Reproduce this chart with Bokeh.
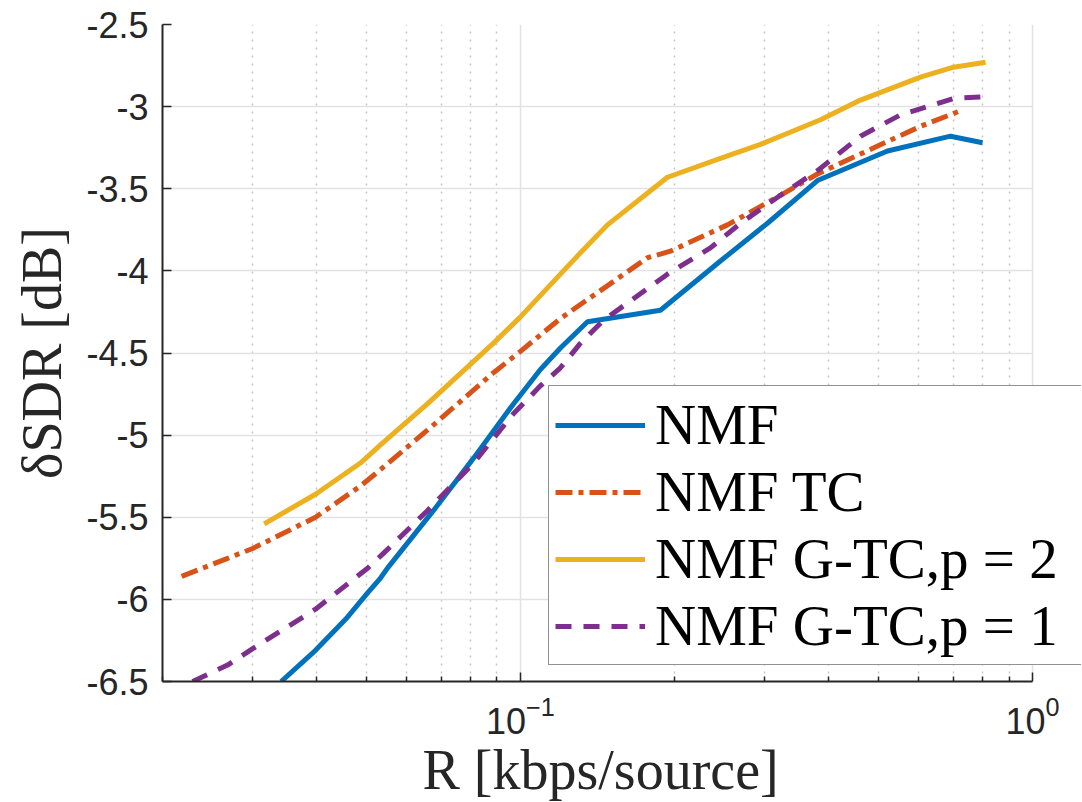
import math
from bokeh.plotting import figure
from bokeh.models import (FixedTicker, Legend, LegendItem, Range1d, LogTickFormatter, Title)
from bokeh.embed import file_html
from bokeh.resources import INLINE

# ---------------- data ----------------
rate_nmf = [0.0341, 0.0398, 0.0459, 0.0503, 0.0533, 0.0550, 0.0676, 0.0810, 0.0969,
            0.1094, 0.1197, 0.1352, 0.1877, 0.2458, 0.3037, 0.3802, 0.5210, 0.6918, 0.7989]
sdr_nmf = [-6.50, -6.31, -6.11, -5.96, -5.87, -5.81, -5.46, -5.14, -4.81,
           -4.60, -4.47, -4.31, -4.24, -3.94, -3.71, -3.45, -3.27, -3.18, -3.22]

rate_tc = [0.0218, 0.0268, 0.0300, 0.0398, 0.0487, 0.0533, 0.0658, 0.0886, 0.1000,
           0.1197, 0.1433, 0.1770, 0.1963, 0.2537, 0.3219, 0.3802, 0.4983, 0.6043, 0.7302]
sdr_tc = [-5.86, -5.75, -5.69, -5.50, -5.31, -5.21, -4.97, -4.62, -4.49,
          -4.29, -4.12, -3.92, -3.88, -3.72, -3.54, -3.41, -3.24, -3.12, -3.02]

rate_gtc2 = [0.0316, 0.0398, 0.0487, 0.0533, 0.0658, 0.0886, 0.1000, 0.1197, 0.1310,
             0.1479, 0.1937, 0.2537, 0.2943, 0.3219, 0.3855, 0.4614, 0.6043, 0.7012, 0.8098]
sdr_gtc2 = [-5.54, -5.36, -5.17, -5.06, -4.81, -4.44, -4.28, -4.02, -3.89,
            -3.72, -3.43, -3.30, -3.23, -3.18, -3.08, -2.96, -2.82, -2.76, -2.73]

rate_gtc1 = [0.0229, 0.0268, 0.0300, 0.0398, 0.0503, 0.0540, 0.0658, 0.0810, 0.0969,
             0.1094, 0.1197, 0.1310, 0.1453, 0.1662, 0.1937, 0.2350, 0.2690, 0.3219,
             0.3802, 0.4614, 0.5524, 0.6236, 0.7012, 0.7989]
sdr_gtc1 = [-6.50, -6.40, -6.30, -6.06, -5.81, -5.72, -5.46, -5.17, -4.87,
            -4.70, -4.59, -4.44, -4.30, -4.17, -4.02, -3.86, -3.71, -3.54,
            -3.39, -3.18, -3.05, -3.00, -2.95, -2.94]

series_labels = ["NMF", "NMF TC", "NMF G-TC,p = 2", "NMF G-TC,p = 1"]

y_ticks = [-6.5, -6.0, -5.5, -5.0, -4.5, -4.0, -3.5, -3.0, -2.5]
y_tick_labels = ["-6.5", "-6", "-5.5", "-5", "-4.5", "-4", "-3.5", "-3", "-2.5"]
x_major_ticks = [0.1, 1.0]
x_minor_ticks = [0.02, 0.03, 0.04, 0.05, 0.06, 0.07, 0.08, 0.09,
                 0.2, 0.3, 0.4, 0.5, 0.6, 0.7, 0.8, 0.9]

x_lo, x_hi = 0.02, 1.0      # axis extent
y_lo, y_hi = -6.5, -2.5

# ---------------- styles ----------------
C_BLUE = "#0072BD"
C_ORANGE = "#D95319"
C_YELLOW = "#EDB120"
C_PURPLE = "#7E2F8E"
AX = "#262626"
GRID = "#e2e2e2"
LW = 5

# the frame reaches a little past the axis end so the legend can overhang it
W, H = 1082, 802
ML, MR, MT, MB = 162, 1, 24, 121
frame_w = W - ML - MR
axis_w = 870.0
dec = math.log10(x_hi) - math.log10(x_lo)
x_view_hi = 10 ** (math.log10(x_lo) + dec * frame_w / axis_w)

p = figure(width=W, height=H, x_axis_type="log",
           x_range=Range1d(x_lo, x_view_hi), y_range=Range1d(y_lo, y_hi),
           output_backend="svg", toolbar_location=None,
           min_border_left=ML, min_border_right=MR,
           min_border_top=MT, min_border_bottom=MB)
p.outline_line_color = None
p.background_fill_color = "white"

# grids
p.xaxis.ticker = FixedTicker(ticks=x_major_ticks, minor_ticks=x_minor_ticks)
p.xgrid.ticker = FixedTicker(ticks=x_major_ticks, minor_ticks=x_minor_ticks)
p.yaxis.ticker = FixedTicker(ticks=y_ticks)
p.ygrid.ticker = FixedTicker(ticks=y_ticks)
for g in (p.xgrid, p.ygrid):
    g.grid_line_color = GRID
    g.grid_line_width = 1.5
p.xgrid.minor_grid_line_color = "#c4c4c4"
p.xgrid.minor_grid_line_dash = "2 6"
p.xgrid.minor_grid_line_width = 1.5
try:
    p.ygrid.cross_bounds = (x_lo, x_hi)
except Exception:
    p.ygrid.visible = False
    p.segment(x0=[x_lo] * len(y_ticks), y0=y_ticks, x1=[x_hi] * len(y_ticks),
              y1=y_ticks, line_color=GRID, line_width=1.5, level="underlay")

r1 = p.line(rate_nmf, sdr_nmf, line_color=C_BLUE, line_width=LW)
r2 = p.line(rate_tc, sdr_tc, line_color=C_ORANGE, line_width=LW, line_dash="17 6 5 6")
r3 = p.line(rate_gtc2, sdr_gtc2, line_color=C_YELLOW, line_width=LW)
r4 = p.line(rate_gtc1, sdr_gtc1, line_color=C_PURPLE, line_width=LW, line_dash="16 12")

# y axis
p.yaxis.major_label_overrides = dict(zip(y_ticks, y_tick_labels))
p.yaxis.major_label_text_font = "Liberation Sans"
p.yaxis.major_label_text_font_size = "36px"
p.yaxis.major_label_text_color = AX
p.yaxis.major_label_standoff = 14
p.yaxis.axis_label = "δSDR [dB]"
p.yaxis.axis_label_text_font = "Liberation Serif"
p.yaxis.axis_label_text_font_style = "normal"
p.yaxis.axis_label_text_font_size = "56px"
p.yaxis.axis_label_text_color = AX
p.yaxis.axis_label_standoff = 10
p.yaxis.minor_tick_line_color = None

# x axis
p.xaxis.bounds = (x_lo, x_hi)
p.xaxis.formatter = LogTickFormatter()
p.xaxis.major_label_text_font = "Liberation Sans"
p.xaxis.major_label_text_font_size = "36px"
p.xaxis.major_label_text_color = AX
p.xaxis.major_label_standoff = 14

for ax in (p.xaxis, p.yaxis):
    ax.axis_line_color = AX
    ax.axis_line_width = 2
    ax.major_tick_line_color = AX
    ax.major_tick_line_width = 1.5
    ax.major_tick_in = 9
    ax.major_tick_out = 0
p.xaxis.minor_tick_line_color = AX
p.xaxis.minor_tick_line_width = 1.5
p.xaxis.minor_tick_in = 5
p.xaxis.minor_tick_out = 0

# x axis title, placed under the axis (not the wider frame)
p.add_layout(Title(text="R [kbps/source]", align="left", offset=260,
                   text_font="Liberation Serif", text_font_size="56px",
                   text_font_style="normal", text_color=AX, standoff=0),
             "below")

# legend
items = [LegendItem(label=lab, renderers=[r]) for lab, r in zip(series_labels, [r1, r2, r3, r4])]
legend = Legend(items=items, location=(386, 16), margin=0, padding=6,
                spacing=2, glyph_width=90, glyph_height=64, label_height=64,
                label_width=420, label_standoff=10, label_text_font="Liberation Serif",
                label_text_font_size="57px", label_text_color="black",
                border_line_color=AX, border_line_width=1.5,
                background_fill_color="white", background_fill_alpha=1.0)
p.add_layout(legend)

open("out.html", "w").write(file_html(p, INLINE))
